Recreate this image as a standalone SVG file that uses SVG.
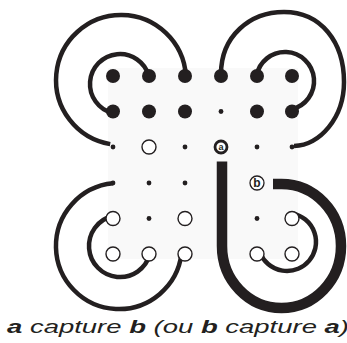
<svg xmlns="http://www.w3.org/2000/svg" width="347" height="343" viewBox="0 0 347 343">
<style>
.ink{fill:#231f20}
.big{fill:#231f20}
.small{fill:#231f20}
.open{fill:#ffffff;stroke:#231f20;stroke-width:1.4}
.arc{fill:none;stroke:#231f20;stroke-width:4.5;stroke-linecap:butt}
.thick{fill:none;stroke:#231f20;stroke-width:10.5;stroke-linecap:butt}
.lbl{font-family:"Liberation Sans",Arial,sans-serif;fill:#231f20;text-anchor:middle;font-weight:bold}
.cap{font-family:"Liberation Sans",Arial,sans-serif;font-style:italic;font-size:19px;fill:#231f20}
</style>
<rect x="108" y="68" width="190" height="191" fill="#f9f9f9"/>
<g id="connectors">
<path class="arc" d="M148.9,76 A30,30 0 1 0 112.6,113.1"/>
<path class="arc" d="M185.9,75.9 A65,65 0 1 0 110.2,144.1"/>
<path class="arc" d="M256.5,75.9 A29,29 0 1 1 291.5,109.3"/>
<path class="arc" d="M221,74 C221,36 250,12 284,12 C321,12 344,42 344,82 C344,118 320,145 294,146"/>
<path class="arc" d="M112.3,216 A31,31 0 1 0 149.9,254.2"/>
<path class="arc" d="M113,183.3 A63,63 0 1 0 181.5,253.6"/>
<path class="arc" d="M293,213.6 A29,29 0 1 1 260.1,252.8"/>
<path class="thick" d="M222,161.5 V246 A59.5,62 0 1 0 281.5,184 H273"/>
</g>
<g id="n-r0c0"><circle class="big" cx="113" cy="76" r="7"/></g>
<g id="n-r0c1"><circle class="big" cx="149" cy="76" r="7"/></g>
<g id="n-r0c2"><circle class="big" cx="185" cy="76" r="7"/></g>
<g id="n-r0c3"><circle class="big" cx="221" cy="76" r="7"/></g>
<g id="n-r0c4"><circle class="big" cx="257" cy="76" r="7"/></g>
<g id="n-r0c5"><circle class="big" cx="292" cy="76" r="7"/></g>
<g id="n-r1c0"><circle class="big" cx="113" cy="111.5" r="7"/></g>
<g id="n-r1c1"><circle class="big" cx="149" cy="111.5" r="7"/></g>
<g id="n-r1c2"><circle class="big" cx="185" cy="111.5" r="7"/></g>
<g id="n-r1c3"><circle class="small" cx="221" cy="111.5" r="2.4"/></g>
<g id="n-r1c4"><circle class="big" cx="257" cy="111.5" r="7"/></g>
<g id="n-r1c5"><circle class="big" cx="292" cy="111.5" r="7"/></g>
<g id="n-r2c0"><circle class="small" cx="113" cy="147" r="2.4"/></g>
<g id="n-r2c1"><circle class="open" cx="149" cy="147" r="7"/></g>
<g id="n-r2c2"><circle class="small" cx="185" cy="147" r="2.4"/></g>
<g id="n-a"><circle cx="221" cy="147" r="6" fill="#fff" stroke="#231f20" stroke-width="2.8"/><text class="lbl" x="221" y="150.3" font-size="9">a</text></g>
<g id="n-r2c4"><circle class="small" cx="257" cy="147" r="2.4"/></g>
<g id="n-r2c5"><circle class="small" cx="292" cy="147" r="2.4"/></g>
<g id="n-r3c0"><circle class="small" cx="113" cy="183" r="2.4"/></g>
<g id="n-r3c1"><circle class="small" cx="149" cy="183" r="2.4"/></g>
<g id="n-r3c2"><circle class="small" cx="185" cy="183" r="2.4"/></g>
<g id="n-b"><circle cx="257" cy="183" r="7" fill="#fff" stroke="#231f20" stroke-width="1.3"/><text class="lbl" x="257" y="187.3" font-size="12">b</text></g>
<g id="n-r4c0"><circle class="open" cx="113" cy="218.5" r="7"/></g>
<g id="n-r4c1"><circle class="small" cx="149" cy="218.5" r="2.4"/></g>
<g id="n-r4c2"><circle class="open" cx="185" cy="218.5" r="7"/></g>
<g id="n-r4c4"><circle class="small" cx="257" cy="218.5" r="2.4"/></g>
<g id="n-r4c5"><circle class="open" cx="292" cy="218.5" r="7"/></g>
<g id="n-r5c0"><circle class="open" cx="113" cy="254" r="7"/></g>
<g id="n-r5c1"><circle class="open" cx="149" cy="254" r="7"/></g>
<g id="n-r5c2"><circle class="open" cx="185" cy="254" r="7"/></g>
<g id="n-r5c4"><circle class="open" cx="257" cy="254" r="7"/></g>
<g id="n-r5c5"><circle class="open" cx="292" cy="254" r="7"/></g>
<text class="cap" x="7" y="333" textLength="342" lengthAdjust="spacingAndGlyphs"><tspan font-weight="bold">a</tspan> capture <tspan font-weight="bold">b</tspan> (ou <tspan font-weight="bold">b</tspan> capture <tspan font-weight="bold">a</tspan>)</text>
</svg>
